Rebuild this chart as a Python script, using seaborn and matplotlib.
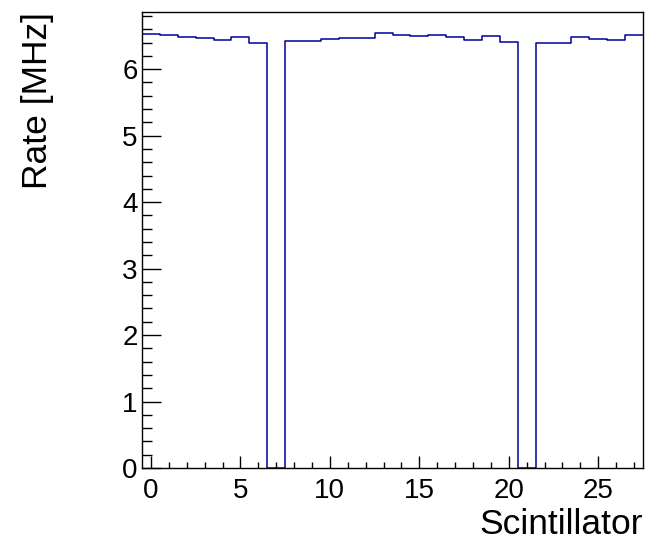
import numpy as np
import pandas as pd
import matplotlib
matplotlib.use("Agg")
import matplotlib.pyplot as plt
import seaborn as sns
from matplotlib.ticker import MultipleLocator

# scintillator index and measured rate per channel [MHz]
scintillator = list(range(28))
rate = [6.53, 6.51, 6.48, 6.47, 6.44, 6.49, 6.40, 0.0,
        6.43, 6.43, 6.46, 6.47, 6.47, 6.54, 6.52, 6.50,
        6.52, 6.48, 6.44, 6.50, 6.41, 0.0, 6.39, 6.40,
        6.48, 6.46, 6.44, 6.51]

df = pd.DataFrame({"Scintillator": scintillator, "Rate": rate})

sns.set_style("ticks")
plt.rcParams["font.family"] = ["Liberation Sans", "DejaVu Sans"]

fig = plt.figure(figsize=(6.48, 5.42), dpi=100)
ax = fig.add_axes([142 / 648, 1 - 468 / 542, 501 / 648, 456 / 542])

# discrete=True -> one unit-wide bin per scintillator, centred on the index
sns.histplot(data=df, x="Scintillator", weights="Rate", discrete=True,
             element="step", fill=False,
             color="#000099", linewidth=1.1, ax=ax)

ax.set_xlim(-0.5, 27.5)
ax.set_ylim(0, 6.86)

ax.xaxis.set_major_locator(MultipleLocator(5))
ax.xaxis.set_minor_locator(MultipleLocator(1))
ax.yaxis.set_major_locator(MultipleLocator(1))
ax.yaxis.set_minor_locator(MultipleLocator(0.2))
ax.tick_params(which="both", direction="in", top=False, right=False,
               labelsize=20, width=1, color="black", labelcolor="black")
ax.tick_params(axis="x", which="major", length=8.5, pad=7.5)
ax.tick_params(axis="x", which="minor", length=4)
ax.tick_params(axis="y", which="major", length=13.5, pad=3)
ax.tick_params(axis="y", which="minor", length=7)

for s in ax.spines.values():
    s.set_color("black")
    s.set_linewidth(1)

ax.set_xlabel("Scintillator", fontsize=25.5, loc="right", color="black")
ax.set_ylabel("Rate [MHz]", fontsize=25.5, loc="top", color="black")
ax.xaxis.set_label_coords(0.999, -0.088)
ax.yaxis.set_label_coords(-0.176, 1.0)

fig.savefig("out.png", dpi=100)
